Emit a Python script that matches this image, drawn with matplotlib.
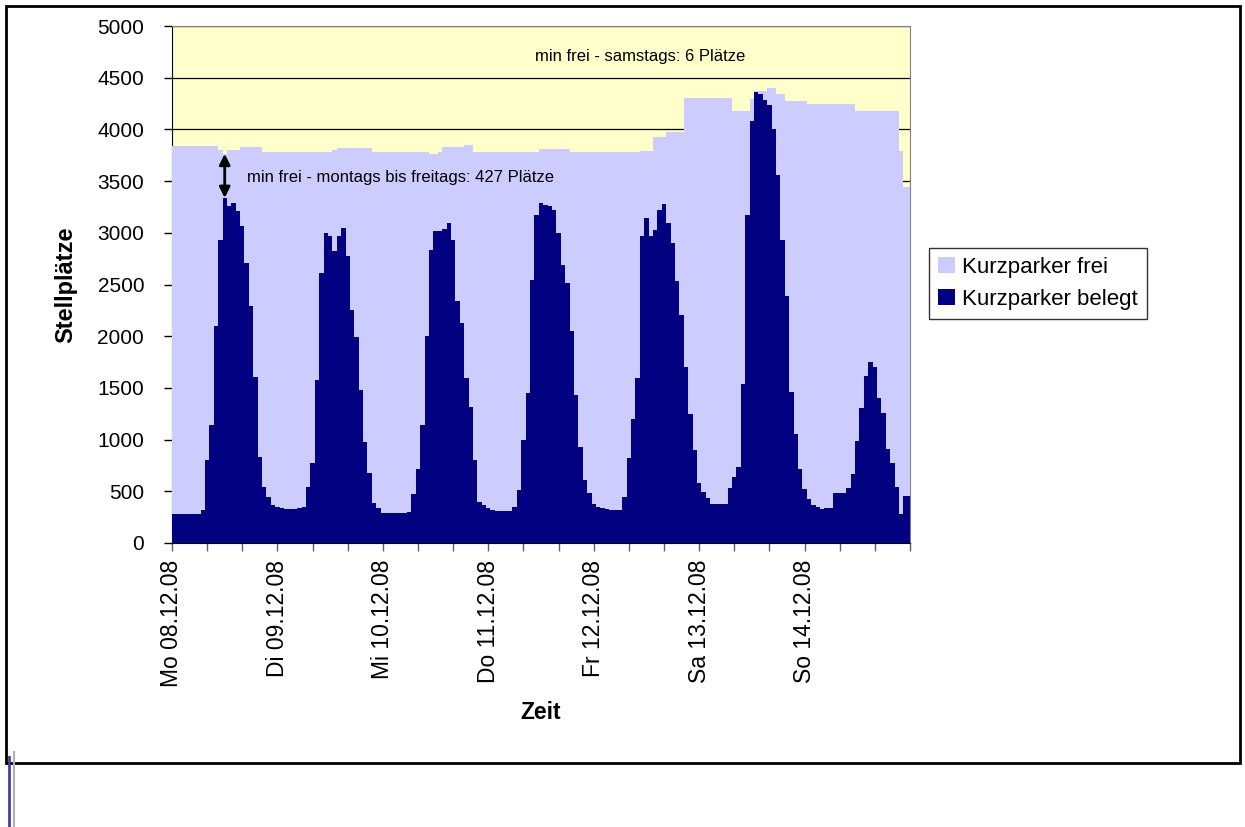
import numpy as np
import matplotlib.pyplot as plt
from matplotlib.patches import Patch, Rectangle
from matplotlib.lines import Line2D

plt.rcParams['font.family'] = ['Liberation Sans', 'DejaVu Sans']

#### Data: hourly values, Mo 08.12.08 00:00 to So 14.12.08 23:00
day_labels = ["Mo 08.12.08", "Di 09.12.08", "Mi 10.12.08", "Do 11.12.08",
              "Fr 12.12.08", "Sa 13.12.08", "So 14.12.08"]

# occupied short-term spaces
belegt_mo = [285, 278, 278, 278, 278, 278, 280, 320, 800, 1140, 2100, 2930,
             3337, 3256, 3290, 3208, 3062, 2707, 2288, 1610, 836, 545, 449, 368]
belegt_di = [350, 335, 330, 329, 329, 335, 352, 545, 771, 1578, 2611, 2998,
             2966, 2820, 2966, 3046, 2772, 2256, 1997, 1481, 981, 674, 384, 336]
belegt_mi = [294, 294, 294, 294, 294, 294, 300, 470, 720, 1142, 2000, 2836,
             3014, 3020, 3040, 3095, 2933, 2336, 2126, 1594, 1320, 803, 400, 368]
belegt_do = [336, 319, 313, 313, 313, 313, 352, 513, 997, 1449, 2546, 3175,
             3288, 3272, 3256, 3224, 2998, 2691, 2514, 2046, 1433, 933, 610, 481]
belegt_fr = [378, 352, 335, 325, 320, 320, 320, 448, 820, 1197, 1594, 2966,
             3143, 2972, 3030, 3224, 3282, 3095, 2901, 2530, 2207, 1700, 1250, 900]
belegt_sa = [578, 497, 432, 378, 378, 378, 378, 529, 642, 739, 1539, 3175,
             4079, 4363, 4340, 4289, 4240, 4000, 3563, 2933, 2385, 1465, 1050, 720]
belegt_so = [520, 423, 368, 345, 326, 335, 335, 481, 481, 481, 529, 668,
             990, 1304, 1617, 1746, 1700, 1400, 1255, 907, 771, 545, 280, 455]

# total available short-term spaces
kap_mo = [3836, 3836, 3836, 3836, 3836, 3836, 3836, 3836, 3836, 3836, 3836, 3800,
          3764, 3805, 3805, 3805, 3827, 3827, 3827, 3827, 3827, 3778, 3778, 3778]
kap_di = [3778, 3778, 3778, 3778, 3778, 3778, 3778, 3778, 3778, 3778, 3778, 3778,
          3778, 3800, 3823, 3823, 3823, 3823, 3823, 3823, 3823, 3823, 3778, 3778]
kap_mi = [3778, 3778, 3778, 3778, 3778, 3778, 3778, 3778, 3778, 3778, 3778, 3762,
          3762, 3778, 3830, 3830, 3830, 3830, 3830, 3845, 3845, 3778, 3778, 3778]
kap_do = [3778, 3778, 3778, 3778, 3778, 3778, 3778, 3778, 3778, 3778, 3778, 3778,
          3815, 3815, 3815, 3815, 3815, 3815, 3815, 3778, 3778, 3778, 3778, 3778]
kap_fr = [3778, 3778, 3778, 3778, 3778, 3778, 3778, 3778, 3778, 3778, 3778, 3795,
          3795, 3795, 3927, 3927, 3927, 3972, 3972, 3972, 3972, 4305, 4305, 4305]
kap_sa = [4305, 4305, 4305, 4305, 4305, 4305, 4305, 4305, 4175, 4175, 4175, 4175,
          4290, 4369, 4369, 4369, 4402, 4402, 4340, 4340, 4279, 4279, 4279, 4279]
kap_so = [4279, 4250, 4250, 4250, 4250, 4250, 4250, 4250, 4250, 4250, 4250, 4250,
          4182, 4182, 4182, 4182, 4182, 4182, 4182, 4182, 4182, 4182, 3795, 3440]

belegt = np.array(belegt_mo + belegt_di + belegt_mi + belegt_do + belegt_fr + belegt_sa + belegt_so)
kap = np.array(kap_mo + kap_di + kap_mi + kap_do + kap_fr + kap_sa + kap_so)
frei = kap - belegt
n = len(belegt)

c_frei = "#CCCCFF"
c_belegt = "#000080"

#### Figure
W, H = 1245, 827
fig = plt.figure(figsize=(W / 100, H / 100), dpi=100)
ax = fig.add_axes([172 / W, 1 - 543 / H, (910 - 172) / W, (543 - 26) / H])
ax.set_facecolor("#FFFFCC")

hours = np.arange(n)
xs = np.r_[hours, n]
b = np.r_[belegt, belegt[-1]]
k = np.r_[kap, kap[-1]]
ax.fill_between(xs, 0, b, color=c_belegt, lw=0, zorder=3, step="mid")
ax.fill_between(xs, b, k, color=c_frei, lw=0, zorder=3, step="mid")

ax.set_xlim(0, n)
ax.set_ylim(0, 5000)
ax.set_axisbelow(True)
ax.yaxis.grid(True, color="black", lw=0.9)

ax.set_yticks(np.arange(0, 5001, 500))
ax.tick_params(axis="y", labelsize=15, length=6, width=1, pad=14)
xt = np.arange(0, n + 1, 8)
ax.set_xticks(xt)
ax.set_xticklabels([day_labels[t // 24] if t % 24 == 0 and t < n else "" for t in xt],
                   rotation=90, fontsize=16.5)
ax.tick_params(axis="x", length=6, width=1, pad=6, color="#606060")

for s in ["top", "right"]:
    ax.spines[s].set_color("#808080")
for s in ["left", "bottom"]:
    ax.spines[s].set_color("black")

ax.set_ylabel("Stellplätze", fontsize=17, fontweight="bold")
ax.yaxis.set_label_coords(-0.128, 0.5)
ax.set_xlabel("Zeit", fontsize=16.5, fontweight="bold")
ax.xaxis.set_label_coords(0.5, -0.305)

# annotations
i_min = np.argmin(frei[:120])
ax.annotate("", xy=(hours[i_min], belegt[i_min]), xytext=(hours[i_min], kap[i_min]),
            arrowprops=dict(arrowstyle="<|-|>", color="black", lw=2,
                            mutation_scale=16, shrinkA=0, shrinkB=0), zorder=5)
ax.text(17.1, 3533, "min frei - montags bis freitags: 427 Plätze", fontsize=12,
        ha="left", va="center", zorder=5)
ax.text(106.5, 4705, "min frei - samstags: 6 Plätze", fontsize=12,
        ha="center", va="center", zorder=5)

handles = [Patch(facecolor=c_frei, edgecolor="none", label="Kurzparker frei"),
           Patch(facecolor=c_belegt, edgecolor="none", label="Kurzparker belegt")]
leg = fig.legend(handles=handles, loc="upper left", bbox_to_anchor=(929 / W, 1 - 248 / H),
                 fontsize=16, frameon=True, fancybox=False, edgecolor="black",
                 handlelength=0.75, handleheight=0.75, handletextpad=0.35,
                 borderpad=0.4, labelspacing=0.5, borderaxespad=0)
leg.get_frame().set_linewidth(1)

# outer chart border and slide remnants
fig.patches.append(Rectangle((6 / W, 1 - 763 / H), (1240 - 6) / W, (763 - 6) / H,
                             transform=fig.transFigure, fill=False, edgecolor="black", lw=2))
fig.lines.append(Line2D([9 / W, 9 / W], [0, 1 - 757 / H], transform=fig.transFigure,
                        color="#4b3c9c", lw=2))
fig.lines.append(Line2D([14 / W, 14 / W], [0, 1 - 752 / H], transform=fig.transFigure,
                        color="#b0b0b0", lw=1.5))

fig.savefig("out.png", dpi=100)
